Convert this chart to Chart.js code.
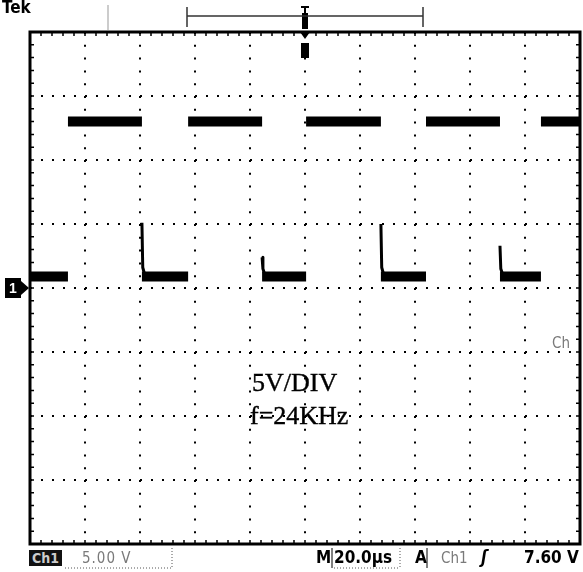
<!DOCTYPE html>
<html>
<head>
<meta charset="utf-8">
<script src="https://cdn.jsdelivr.net/npm/chart.js@4"></script>
<style>
  body { margin: 0; background: #fff; }
  #wrap { position: relative; width: 583px; height: 572px; overflow: hidden; background: #fff; }
  #scope { position: absolute; left: 0; top: 0; }
  .lbl { position: absolute; white-space: nowrap; line-height: 1; color: #000; }
  .narrow { font-family: "Liberation Sans Narrow", "DejaVu Sans Condensed", "Liberation Sans", sans-serif; font-weight: bold; }
  .serif { font-family: "Liberation Serif", "DejaVu Serif", serif; font-size: 26px; -webkit-text-stroke: 0.4px #000; }
  .grey { color: #7a7a7a; font-weight: normal; }
</style>
</head>
<body>
<div id="wrap">
  <canvas id="scope" width="583" height="572"></canvas>
  <div class="lbl narrow" style="left:2px;top:-1px;font-size:17px;">Tek</div>
  <div class="lbl serif" style="left:252px;top:370px;">5V/DIV</div>
  <div class="lbl serif" style="left:250px;top:403px;">f=24KHz</div>
  <div class="lbl narrow grey" style="left:552px;top:336px;font-size:15px;">Ch</div>
  <div class="lbl narrow" style="left:29px;top:550px;width:33px;height:16px;background:#111;color:#ccc;font-size:14px;text-align:center;padding-top:1px;box-sizing:border-box;">Ch1</div>
  <div class="lbl narrow grey" style="left:82px;top:551px;font-size:15px;letter-spacing:1px;">5.00 V</div>
  <div class="lbl narrow" style="left:316px;top:549px;font-size:17px;">M</div>
  <div class="lbl narrow" style="left:334px;top:549px;font-size:17px;">20.0µs</div>
  <div class="lbl narrow" style="left:415px;top:549px;font-size:17px;">A</div>
  <div class="lbl narrow grey" style="left:441px;top:551px;font-size:15px;">Ch1</div>
  <div class="lbl narrow" style="left:481px;top:549px;font-size:17px;font-style:italic;">ʃ</div>
  <div class="lbl narrow" style="left:524px;top:549px;font-size:17px;">7.60 V</div>
</div>
<script>
// scope settings
const timePerDiv = 20;   // µs
const voltsPerDiv = 5;   // V
const timeSpan = [0, 200];
const voltSpan = [-20, 20];

// square wave
const highLevel = 13.0;
const lowLevel = 0.9;
const riseTimes = [13.8, 57.5, 100.4, 144.0, 185.8];
const fallTimes = [40.7, 84.4, 127.6, 170.9];
const spikePeaks = [5.1, 2.4, 5.0, 3.3];
const spikeKnee = [1.6, 1.5, 1.6, 1.5];
const spikeSettle = [1.2, 1.2, 1.2, 1.2];

// build the trace segments
var highPts = [];
for (var i = 0; i < riseTimes.length; i++) {
  var end = i < fallTimes.length ? fallTimes[i] : timeSpan[1];
  highPts.push({ x: riseTimes[i], y: highLevel }, { x: end, y: highLevel }, { x: end, y: null });
}
var lowPts = [{ x: timeSpan[0], y: lowLevel }, { x: riseTimes[0], y: lowLevel }, { x: riseTimes[0], y: null }];
for (var i = 0; i < fallTimes.length; i++) {
  lowPts.push({ x: fallTimes[i], y: lowLevel }, { x: riseTimes[i + 1], y: lowLevel }, { x: riseTimes[i + 1], y: null });
}
var spikePts = [];
for (var i = 0; i < fallTimes.length; i++) {
  spikePts.push(
    { x: fallTimes[i], y: spikePeaks[i] },
    { x: fallTimes[i] + 0.3, y: spikeKnee[i] },
    { x: fallTimes[i] + spikeSettle[i], y: lowLevel },
    { x: fallTimes[i] + spikeSettle[i], y: null }
  );
}

// frame, border ticks and markers
const scopeFrame = {
  id: "scopeFrame",
  afterDraw(chart) {
    const c = chart.ctx;
    const a = chart.chartArea;
    const xs = chart.scales.x;
    const ys = chart.scales.y;
    c.save();
    c.strokeStyle = "#000";
    c.fillStyle = "#000";
    c.lineWidth = 3;
    c.strokeRect(a.left, a.top, a.right - a.left, a.bottom - a.top);
    c.lineWidth = 1.5;
    c.beginPath();
    for (var t = timeSpan[0]; t <= timeSpan[1]; t += timePerDiv / 5) {
      var px = xs.getPixelForValue(t);
      c.moveTo(px, a.top); c.lineTo(px, a.top + 4);
      c.moveTo(px, a.bottom); c.lineTo(px, a.bottom - 4);
    }
    for (var v = voltSpan[0]; v <= voltSpan[1]; v += voltsPerDiv / 5) {
      var py = ys.getPixelForValue(v);
      c.moveTo(a.left, py); c.lineTo(a.left + 4, py);
      c.moveTo(a.right, py); c.lineTo(a.right - 4, py);
    }
    c.stroke();

    // ground marker
    var gy = ys.getPixelForValue(0);
    c.fillRect(5, gy - 10, 16, 20);
    c.beginPath();
    c.moveTo(21, gy - 7); c.lineTo(a.left - 1, gy); c.lineTo(21, gy + 7);
    c.fill();
    c.fillStyle = "#fff";
    c.font = "bold 14px 'Liberation Sans Narrow', sans-serif";
    c.textAlign = "center";
    c.textBaseline = "middle";
    c.fillText("1", 13, gy + 1);

    // trigger position marker
    var tx = xs.getPixelForValue((timeSpan[0] + timeSpan[1]) / 2);
    c.fillStyle = "#000";
    c.beginPath();
    c.moveTo(tx - 5, a.top); c.lineTo(tx + 5, a.top); c.lineTo(tx, a.top + 7);
    c.fill();
    c.fillRect(tx - 4, a.top + 11, 8, 15);
    c.fillRect(tx - 3, 13, 6, 16);
    c.fillRect(tx - 4, 6, 8, 2);
    c.fillRect(tx - 1, 6, 2, 7);

    // record window bracket
    c.lineWidth = 1.5;
    c.strokeStyle = "#333";
    c.beginPath();
    c.moveTo(187, 7); c.lineTo(187, 27);
    c.moveTo(423, 7); c.lineTo(423, 27);
    c.moveTo(187, 16); c.lineTo(423, 16);
    c.stroke();
    c.lineWidth = 1;
    c.strokeStyle = "#999";
    c.beginPath();
    c.moveTo(108, 5); c.lineTo(108, 30);
    c.stroke();

    // readout boxes
    c.setLineDash([1, 2]);
    c.strokeStyle = "#555";
    c.beginPath();
    c.moveTo(65, 568); c.lineTo(172, 568);
    c.moveTo(172, 548); c.lineTo(172, 568);
    c.moveTo(334, 568); c.lineTo(400, 568);
    c.moveTo(400, 548); c.lineTo(400, 568);
    c.stroke();
    c.setLineDash([]);
    c.strokeStyle = "#000";
    c.beginPath();
    c.moveTo(332, 548); c.lineTo(332, 568);
    c.moveTo(427, 548); c.lineTo(427, 568);
    c.stroke();
    c.restore();
  }
};

const ctx = document.getElementById("scope");
let scopeChart = new Chart(ctx, {
  type: "line",
  data: {
    datasets: [
      { label: "high", data: highPts, borderColor: "#000", borderWidth: 10, borderCapStyle: "butt", pointRadius: 0, spanGaps: false },
      { label: "low", data: lowPts, borderColor: "#000", borderWidth: 10, borderCapStyle: "butt", pointRadius: 0, spanGaps: false },
      { label: "spike", data: spikePts, borderColor: "#000", borderWidth: 3, borderCapStyle: "butt", borderJoinStyle: "round", pointRadius: 0, spanGaps: false },
    ],
  },
  options: {
    responsive: false,
    animation: false,
    layout: { padding: { left: 30, top: 32, right: 3, bottom: 28 } },
    plugins: { legend: { display: false }, tooltip: { enabled: false } },
    scales: {
      x: {
        type: "linear",
        min: timeSpan[0],
        max: timeSpan[1],
        ticks: { display: false, stepSize: timePerDiv },
        grid: { color: "#000", lineWidth: 2, drawTicks: false },
        border: { display: false, dash: [2, 10.8] },
      },
      y: {
        min: voltSpan[0],
        max: voltSpan[1],
        ticks: { display: false, stepSize: voltsPerDiv },
        grid: { color: "#000", lineWidth: 2, drawTicks: false },
        border: { display: false, dash: [2, 9] },
      },
    },
  },
  plugins: [scopeFrame],
});
</script>
</body>
</html>
